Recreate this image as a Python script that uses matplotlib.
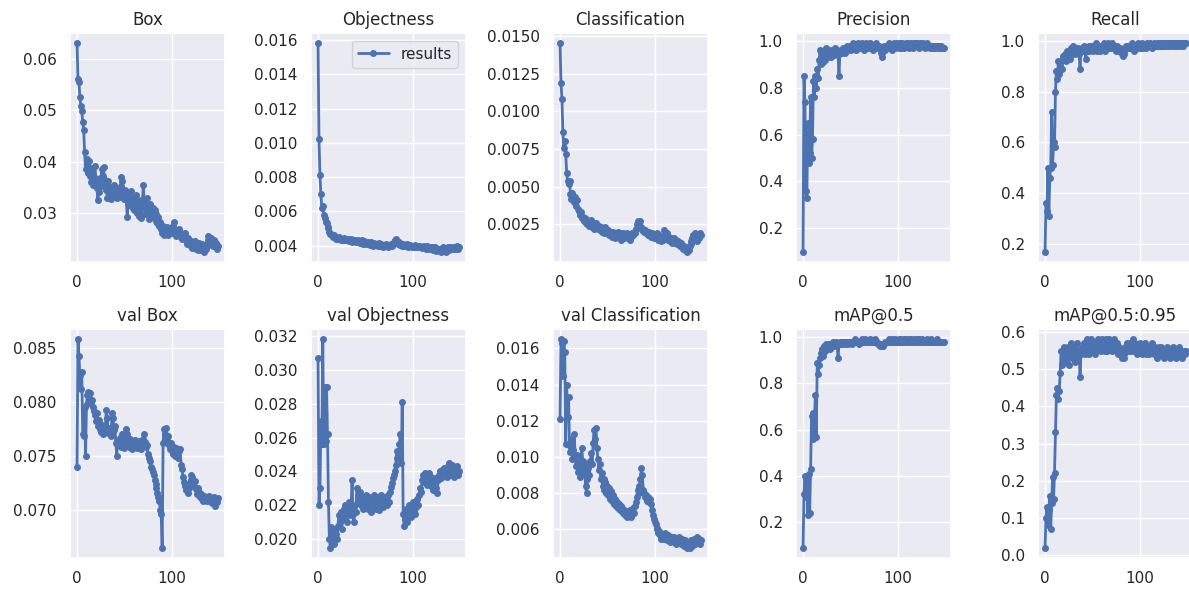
import matplotlib
matplotlib.use("Agg")
import matplotlib.pyplot as plt
import numpy as np
import seaborn as sns

# training curves (150 epochs each)
box_loss = [
    0.0630, 0.0560, 0.0555, 0.0525, 0.0508, 0.0498, 0.0478, 0.0462, 0.0418, 0.0385,
    0.0405, 0.0392, 0.0378, 0.0401, 0.0372, 0.0360, 0.0388, 0.0355, 0.0370, 0.0392,
    0.0362, 0.0348, 0.0325, 0.0340, 0.0368, 0.0352, 0.0385, 0.0372, 0.0390, 0.0358,
    0.0365, 0.0345, 0.0330, 0.0362, 0.0338, 0.0350, 0.0328, 0.0342, 0.0335, 0.0355,
    0.0338, 0.0348, 0.0330, 0.0345, 0.0332, 0.0340, 0.0352, 0.0370, 0.0362, 0.0338,
    0.0328, 0.0345, 0.0335, 0.0292, 0.0318, 0.0338, 0.0325, 0.0342, 0.0312, 0.0330,
    0.0305, 0.0322, 0.0335, 0.0300, 0.0318, 0.0295, 0.0325, 0.0310, 0.0290, 0.0315,
    0.0355, 0.0322, 0.0298, 0.0312, 0.0330, 0.0300, 0.0288, 0.0318, 0.0302, 0.0295,
    0.0310, 0.0290, 0.0305, 0.0285, 0.0298, 0.0280, 0.0292, 0.0275, 0.0282, 0.0268,
    0.0262, 0.0275, 0.0258, 0.0268, 0.0262, 0.0272, 0.0258, 0.0265, 0.0270, 0.0262,
    0.0268, 0.0275, 0.0282, 0.0268, 0.0260, 0.0255, 0.0265, 0.0258, 0.0268, 0.0255,
    0.0262, 0.0250, 0.0258, 0.0252, 0.0262, 0.0248, 0.0240, 0.0252, 0.0245, 0.0238,
    0.0235, 0.0245, 0.0232, 0.0240, 0.0236, 0.0245, 0.0230, 0.0238, 0.0228, 0.0242,
    0.0235, 0.0228, 0.0240, 0.0232, 0.0225, 0.0238, 0.0230, 0.0235, 0.0248, 0.0255,
    0.0250, 0.0240, 0.0252, 0.0245, 0.0235, 0.0248, 0.0238, 0.0242, 0.0230, 0.0235,
]
obj_loss = [
    0.0158, 0.0102, 0.0081, 0.0070, 0.0062, 0.0063, 0.0058, 0.0056, 0.0054, 0.0053,
    0.0051, 0.0050, 0.0048, 0.0047, 0.0047, 0.0046, 0.0045, 0.0046, 0.0045, 0.0044,
    0.00445, 0.0044, 0.0045, 0.0044, 0.00435, 0.0044, 0.0043, 0.00445, 0.0043, 0.0044,
    0.00435, 0.0043, 0.0044, 0.00425, 0.0043, 0.0044, 0.0042, 0.0043, 0.00425, 0.0043,
    0.0042, 0.00425, 0.0043, 0.0042, 0.00415, 0.0042, 0.0043, 0.0042, 0.0041, 0.00425,
    0.0042, 0.0041, 0.00415, 0.0042, 0.0041, 0.00405, 0.0042, 0.0041, 0.0040, 0.00415,
    0.0041, 0.00405, 0.0041, 0.0040, 0.00415, 0.0040, 0.00395, 0.0041, 0.0040, 0.0039,
    0.0040, 0.00395, 0.0041, 0.0040, 0.0039, 0.00405, 0.0040, 0.0041, 0.0040, 0.0041,
    0.0042, 0.0043, 0.0044, 0.00425, 0.0042, 0.0041, 0.0042, 0.00405, 0.0041, 0.0040,
    0.0041, 0.0040, 0.00405, 0.0040, 0.0041, 0.0039, 0.0040, 0.00405, 0.0040, 0.0039,
    0.0040, 0.0039, 0.00405, 0.0040, 0.0039, 0.00395, 0.0040, 0.0039, 0.0040, 0.0039,
    0.00385, 0.0039, 0.0040, 0.0039, 0.0038, 0.00395, 0.0039, 0.0038, 0.00385, 0.0039,
    0.0038, 0.0039, 0.00375, 0.0038, 0.0039, 0.0037, 0.0038, 0.00375, 0.0038, 0.0037,
    0.00365, 0.0038, 0.0039, 0.0037, 0.0038, 0.00365, 0.0038, 0.0039, 0.0038, 0.00375,
    0.0039, 0.0038, 0.00385, 0.0039, 0.0038, 0.0039, 0.0038, 0.00395, 0.0038, 0.0039,
]
cls_loss = [
    0.0145, 0.0119, 0.0108, 0.0086, 0.0076, 0.0080, 0.0072, 0.0059, 0.0054, 0.0052,
    0.0054, 0.0045, 0.0042, 0.0046, 0.0044, 0.0040, 0.0043, 0.0037, 0.0041, 0.0035,
    0.0034, 0.0031, 0.0033, 0.0029, 0.0030, 0.0027, 0.0029, 0.0026, 0.0028, 0.0025,
    0.0027, 0.0024, 0.0026, 0.0028, 0.0023, 0.0025, 0.0022, 0.0024, 0.0026, 0.0023,
    0.0022, 0.0024, 0.0021, 0.0023, 0.0020, 0.0022, 0.0019, 0.0021, 0.0023, 0.0020,
    0.0019, 0.0021, 0.0018, 0.0020, 0.0019, 0.0017, 0.0020, 0.0018, 0.0016, 0.0019,
    0.0018, 0.0020, 0.0017, 0.0019, 0.0015, 0.0018, 0.0017, 0.0019, 0.0016, 0.0018,
    0.0017, 0.0019, 0.0016, 0.0018, 0.0015, 0.0017, 0.0019, 0.0018, 0.0020, 0.0019,
    0.0022, 0.0025, 0.0027, 0.0026, 0.0024, 0.0027, 0.0023, 0.0021, 0.0022, 0.0020,
    0.0021, 0.0019, 0.0020, 0.0018, 0.0020, 0.0019, 0.0017, 0.0019, 0.0018, 0.0016,
    0.0018, 0.0017, 0.0019, 0.0016, 0.0015, 0.0018, 0.0016, 0.0014, 0.0017, 0.0015,
    0.0021, 0.0018, 0.0016, 0.0019, 0.0015, 0.0017, 0.0014, 0.0016, 0.0013, 0.0015,
    0.0014, 0.0016, 0.0013, 0.0015, 0.0012, 0.0014, 0.0012, 0.0011, 0.0013, 0.0010,
    0.0009, 0.0011, 0.0008, 0.0010, 0.0007, 0.0009, 0.0008, 0.0011, 0.0012, 0.0014,
    0.0016, 0.0018, 0.0015, 0.0019, 0.0017, 0.0014, 0.0018, 0.0016, 0.0019, 0.0018,
]
precision = [
    0.10, 0.85, 0.74, 0.36, 0.33, 0.65, 0.48, 0.52, 0.76, 0.50,
    0.58, 0.83, 0.76, 0.85, 0.80, 0.88, 0.84, 0.92, 0.96, 0.90,
    0.93, 0.91, 0.95, 0.92, 0.97, 0.94, 0.93, 0.96, 0.94, 0.95,
    0.93, 0.96, 0.95, 0.94, 0.97, 0.95, 0.96, 0.94, 0.85, 0.95,
    0.96, 0.95, 0.97, 0.96, 0.95, 0.97, 0.96, 0.98, 0.96, 0.97,
    0.98, 0.96, 0.97, 0.99, 0.97, 0.98, 0.96, 0.98, 0.99, 0.97,
    0.98, 0.97, 0.99, 0.98, 0.96, 0.98, 0.97, 0.99, 0.98, 0.97,
    0.98, 0.99, 0.97, 0.98, 0.96, 0.98, 0.97, 0.99, 0.98, 0.97,
    0.98, 0.97, 0.95, 0.93, 0.95, 0.97, 0.98, 0.96, 0.98, 0.97,
    0.98, 0.99, 0.97, 0.98, 0.96, 0.98, 0.99, 0.97, 0.98, 0.99,
    0.98, 0.97, 0.99, 0.98, 0.97, 0.99, 0.98, 0.97, 0.98, 0.99,
    0.98, 0.99, 0.97, 0.98, 0.99, 0.98, 0.97, 0.99, 0.98, 0.99,
    0.98, 0.99, 0.98, 0.97, 0.99, 0.98, 0.98, 0.99, 0.98, 0.97,
    0.98, 0.99, 0.98, 0.98, 0.97, 0.98, 0.98, 0.97, 0.98, 0.98,
    0.97, 0.98, 0.98, 0.97, 0.98, 0.97, 0.98, 0.97, 0.97, 0.97,
]
recall = [
    0.17, 0.36, 0.33, 0.50, 0.31, 0.46, 0.50, 0.72, 0.51, 0.60,
    0.58, 0.80, 0.88, 0.85, 0.92, 0.87, 0.90, 0.92, 0.89, 0.94,
    0.93, 0.95, 0.92, 0.96, 0.94, 0.95, 0.93, 0.97, 0.95, 0.96,
    0.98, 0.96, 0.95, 0.97, 0.96, 0.97, 0.95, 0.89, 0.96, 0.97,
    0.96, 0.98, 0.97, 0.93, 0.96, 0.97, 0.98, 0.96, 0.97, 0.98,
    0.97, 0.96, 0.98, 0.97, 0.99, 0.96, 0.97, 0.98, 0.96, 0.97,
    0.98, 0.97, 0.99, 0.96, 0.98, 0.97, 0.98, 0.99, 0.97, 0.98,
    0.97, 0.99, 0.98, 0.97, 0.98, 0.96, 0.98, 0.97, 0.96, 0.97,
    0.96, 0.95, 0.94, 0.95, 0.96, 0.97, 0.98, 0.97, 0.98, 0.97,
    0.98, 0.97, 0.99, 0.98, 0.96, 0.98, 0.97, 0.98, 0.99, 0.97,
    0.98, 0.97, 0.98, 0.99, 0.97, 0.98, 0.98, 0.97, 0.99, 0.98,
    0.98, 0.99, 0.98, 0.97, 0.98, 0.99, 0.98, 0.98, 0.99, 0.98,
    0.99, 0.98, 0.98, 0.99, 0.98, 0.99, 0.98, 0.99, 0.99, 0.98,
    0.99, 0.98, 0.99, 0.99, 0.98, 0.99, 0.99, 0.98, 0.99, 0.99,
    0.98, 0.99, 0.99, 0.98, 0.99, 0.99, 0.98, 0.99, 0.99, 0.99,
]
val_box = [
    0.0740, 0.0858, 0.0843, 0.0825, 0.0812, 0.0828, 0.0770, 0.0768, 0.0795, 0.0750,
    0.0798, 0.0806, 0.0809, 0.0804, 0.0808, 0.0800, 0.0802, 0.0795, 0.0792, 0.0788,
    0.0782, 0.0790, 0.0778, 0.0783, 0.0775, 0.0772, 0.0779, 0.0770, 0.0776, 0.0773,
    0.0778, 0.0793, 0.0785, 0.0771, 0.0776, 0.0772, 0.0768, 0.0790, 0.0785, 0.0774,
    0.0778, 0.0762, 0.0750, 0.0764, 0.0760, 0.0767, 0.0758, 0.0763, 0.0770, 0.0762,
    0.0757, 0.0765, 0.0775, 0.0770, 0.0762, 0.0758, 0.0766, 0.0760, 0.0756, 0.0763,
    0.0759, 0.0765, 0.0761, 0.0757, 0.0762, 0.0758, 0.0764, 0.0760, 0.0756, 0.0762,
    0.0766, 0.0770, 0.0763, 0.0758, 0.0760, 0.0752, 0.0748, 0.0745, 0.0740, 0.0738,
    0.0735, 0.0732, 0.0728, 0.0724, 0.0720, 0.0716, 0.0712, 0.0708, 0.0700, 0.0696,
    0.0665, 0.0762, 0.0775, 0.0770, 0.0776, 0.0765, 0.0768, 0.0760, 0.0756, 0.0762,
    0.0755, 0.0752, 0.0758, 0.0754, 0.0750, 0.0757, 0.0753, 0.0748, 0.0755, 0.0756,
    0.0742, 0.0738, 0.0730, 0.0726, 0.0722, 0.0718, 0.0723, 0.0716, 0.0720, 0.0724,
    0.0732, 0.0728, 0.0730, 0.0725, 0.0722, 0.0727, 0.0719, 0.0715, 0.0720, 0.0717,
    0.0712, 0.0715, 0.0710, 0.0708, 0.0713, 0.0709, 0.0711, 0.0708, 0.0712, 0.0710,
    0.0713, 0.0708, 0.0711, 0.0706, 0.0709, 0.0712, 0.0704, 0.0710, 0.0707, 0.0711,
]
val_obj = [
    0.0307, 0.0220, 0.0230, 0.0270, 0.0256, 0.0318, 0.0256, 0.0290, 0.0258, 0.0290,
    0.0262, 0.0222, 0.0200, 0.0195, 0.0207, 0.0199, 0.0204, 0.0197, 0.0206, 0.0203,
    0.0200, 0.0208, 0.0214, 0.0210, 0.0216, 0.0206, 0.0212, 0.0218, 0.0213, 0.0220,
    0.0216, 0.0210, 0.0218, 0.0222, 0.0214, 0.0220, 0.0235, 0.0215, 0.0210, 0.0220,
    0.0216, 0.0230, 0.0226, 0.0222, 0.0228, 0.0220, 0.0225, 0.0222, 0.0218, 0.0224,
    0.0220, 0.0226, 0.0222, 0.0218, 0.0225, 0.0221, 0.0216, 0.0224, 0.0220, 0.0226,
    0.0222, 0.0218, 0.0225, 0.0221, 0.0217, 0.0223, 0.0220, 0.0226, 0.0222, 0.0219,
    0.0225, 0.0221, 0.0224, 0.0220, 0.0226, 0.0222, 0.0228, 0.0231, 0.0233, 0.0236,
    0.0238, 0.0240, 0.0244, 0.0248, 0.0252, 0.0250, 0.0256, 0.0262, 0.0245, 0.0281,
    0.0215, 0.0208, 0.0212, 0.0218, 0.0210, 0.0214, 0.0220, 0.0216, 0.0213, 0.0219,
    0.0222, 0.0217, 0.0221, 0.0215, 0.0219, 0.0224, 0.0220, 0.0226, 0.0230, 0.0228,
    0.0235, 0.0238, 0.0234, 0.0239, 0.0237, 0.0232, 0.0236, 0.0239, 0.0233, 0.0237,
    0.0231, 0.0234, 0.0229, 0.0233, 0.0236, 0.0230, 0.0227, 0.0235, 0.0238, 0.0240,
    0.0236, 0.0241, 0.0238, 0.0242, 0.0239, 0.0241, 0.0237, 0.0243, 0.0245, 0.0240,
    0.0242, 0.0238, 0.0244, 0.0240, 0.0237, 0.0241, 0.0239, 0.0243, 0.0238, 0.0240,
]
val_cls = [
    0.0121, 0.0165, 0.0163, 0.0145, 0.0164, 0.0158, 0.0107, 0.0140, 0.0122, 0.0133,
    0.0106, 0.0103, 0.0110, 0.0099, 0.0104, 0.0113, 0.0100, 0.0095, 0.0101, 0.0092,
    0.0098, 0.0089, 0.0093, 0.0105, 0.0098, 0.0091, 0.0096, 0.0084, 0.0080, 0.0088,
    0.0094, 0.0090, 0.0098, 0.0102, 0.0096, 0.0108, 0.0115, 0.0110, 0.0116, 0.0105,
    0.0099, 0.0093, 0.0096, 0.0088, 0.0091, 0.0084, 0.0088, 0.0082, 0.0086, 0.0080,
    0.0084, 0.0079, 0.0083, 0.0077, 0.0081, 0.0076, 0.0079, 0.0074, 0.0077, 0.0073,
    0.0075, 0.0072, 0.0074, 0.0071, 0.0073, 0.0070, 0.0072, 0.0069, 0.0071, 0.0068,
    0.0070, 0.0067, 0.0069, 0.0068, 0.0071, 0.0067, 0.0070, 0.0072, 0.0069, 0.0073,
    0.0075, 0.0078, 0.0082, 0.0080, 0.0084, 0.0088, 0.0094, 0.0090, 0.0082, 0.0080,
    0.0078, 0.0079, 0.0076, 0.0078, 0.0075, 0.0077, 0.0074, 0.0071, 0.0068, 0.0066,
    0.0064, 0.0063, 0.0061, 0.0060, 0.0058, 0.0059, 0.0057, 0.0055, 0.0057, 0.0056,
    0.0055, 0.0058, 0.0056, 0.0054, 0.0057, 0.0055, 0.0053, 0.0056, 0.0054, 0.0055,
    0.0053, 0.0056, 0.0054, 0.0052, 0.0055, 0.0053, 0.0056, 0.0054, 0.0052, 0.0055,
    0.0053, 0.0051, 0.0054, 0.0052, 0.0050, 0.0053, 0.0051, 0.0050, 0.0052, 0.0054,
    0.0051, 0.0053, 0.0055, 0.0052, 0.0054, 0.0056, 0.0053, 0.0055, 0.0052, 0.0054,
]
map50 = [
    0.09, 0.32, 0.40, 0.31, 0.38, 0.23, 0.41, 0.24, 0.43, 0.66,
    0.67, 0.56, 0.63, 0.75, 0.57, 0.89, 0.84, 0.88, 0.91, 0.93,
    0.95, 0.92, 0.96, 0.94, 0.97, 0.95, 0.96, 0.97, 0.95, 0.97,
    0.96, 0.97, 0.98, 0.96, 0.97, 0.98, 0.97, 0.91, 0.97, 0.98,
    0.97, 0.98, 0.97, 0.98, 0.98, 0.97, 0.98, 0.98, 0.97, 0.98,
    0.98, 0.98, 0.97, 0.98, 0.98, 0.99, 0.98, 0.98, 0.98, 0.97,
    0.98, 0.98, 0.99, 0.98, 0.98, 0.98, 0.99, 0.98, 0.98, 0.98,
    0.98, 0.99, 0.98, 0.98, 0.98, 0.98, 0.99, 0.98, 0.98, 0.97,
    0.97, 0.96, 0.97, 0.96, 0.97, 0.96, 0.97, 0.98, 0.98, 0.98,
    0.98, 0.99, 0.98, 0.98, 0.99, 0.98, 0.98, 0.99, 0.98, 0.98,
    0.98, 0.99, 0.98, 0.98, 0.99, 0.98, 0.98, 0.99, 0.98, 0.99,
    0.98, 0.98, 0.99, 0.98, 0.99, 0.98, 0.98, 0.99, 0.98, 0.98,
    0.99, 0.98, 0.98, 0.99, 0.98, 0.98, 0.99, 0.98, 0.98, 0.98,
    0.98, 0.99, 0.98, 0.98, 0.98, 0.99, 0.98, 0.98, 0.98, 0.98,
    0.98, 0.98, 0.99, 0.98, 0.98, 0.98, 0.98, 0.98, 0.98, 0.98,
]
map50_95 = [
    0.02, 0.10, 0.13, 0.08, 0.12, 0.16, 0.07, 0.14, 0.21, 0.15,
    0.22, 0.33, 0.43, 0.45, 0.42, 0.44, 0.49, 0.55, 0.51, 0.54,
    0.56, 0.52, 0.55, 0.53, 0.56, 0.51, 0.54, 0.57, 0.53, 0.55,
    0.54, 0.56, 0.52, 0.55, 0.57, 0.53, 0.55, 0.48, 0.54, 0.56,
    0.55, 0.57, 0.54, 0.56, 0.58, 0.55, 0.57, 0.54, 0.56, 0.58,
    0.55, 0.57, 0.56, 0.54, 0.57, 0.55, 0.58, 0.56, 0.57, 0.55,
    0.58, 0.56, 0.57, 0.55, 0.58, 0.57, 0.55, 0.56, 0.58, 0.56,
    0.57, 0.55, 0.56, 0.58, 0.56, 0.55, 0.57, 0.54, 0.56, 0.55,
    0.54, 0.53, 0.55, 0.53, 0.54, 0.56, 0.55, 0.57, 0.56, 0.55,
    0.57, 0.55, 0.56, 0.58, 0.55, 0.57, 0.56, 0.54, 0.56, 0.55,
    0.57, 0.55, 0.56, 0.54, 0.56, 0.55, 0.57, 0.54, 0.55, 0.56,
    0.54, 0.56, 0.55, 0.57, 0.55, 0.54, 0.56, 0.55, 0.53, 0.55,
    0.56, 0.54, 0.55, 0.56, 0.54, 0.55, 0.53, 0.55, 0.54, 0.56,
    0.54, 0.55, 0.53, 0.55, 0.54, 0.56, 0.54, 0.55, 0.53, 0.54,
    0.55, 0.54, 0.56, 0.54, 0.55, 0.53, 0.54, 0.55, 0.54, 0.55,
]

titles = ["Box", "Objectness", "Classification", "Precision", "Recall",
          "val Box", "val Objectness", "val Classification", "mAP@0.5", "mAP@0.5:0.95"]
series = [box_loss, obj_loss, cls_loss, precision, recall,
          val_box, val_obj, val_cls, map50, map50_95]

sns.set_theme(style="darkgrid")

W, H = 1189, 593
fig = plt.figure(figsize=(W / 100, H / 100), dpi=100)

# axes placement in pixels (left edges, top edges, size)
col_left = [70, 311, 553, 796, 1038]
row_top = [33, 329]
ax_w, ax_h = 155, 229

for i, (title, y) in enumerate(zip(titles, series)):
    r, c = divmod(i, 5)
    rect = [col_left[c] / W, 1 - (row_top[r] + ax_h) / H, ax_w / W, ax_h / H]
    ax = fig.add_axes(rect)
    x = np.arange(len(y))
    ax.plot(x, y, marker=".", linewidth=2, markersize=8, color="#4C72B0", label="results")
    ax.set_title(title, fontsize=12)
    ax.set_xticks([0, 100])
    ax.tick_params(labelsize=11)
    if i == 1:
        ax.legend(loc="upper right", fontsize=11)

fig.savefig("out.png", dpi=100)
plt.close(fig)
